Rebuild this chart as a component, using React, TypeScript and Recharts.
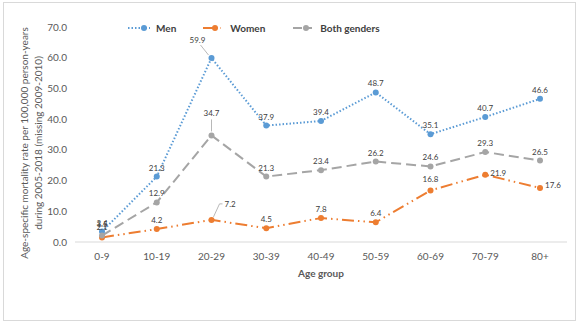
import React from 'react';
import { LineChart, Line, XAxis, YAxis, Legend } from 'recharts';

const ageGroups = ['0-9', '10-19', '20-29', '30-39', '40-49', '50-59', '60-69', '70-79', '80+'];
const men = [3.4, 21.3, 59.9, 37.9, 39.4, 48.7, 35.1, 40.7, 46.6];
const women = [1.5, 4.2, 7.2, 4.5, 7.8, 6.4, 16.8, 21.9, 17.6];
const bothGenders = [2.1, 12.9, 34.7, 21.3, 23.4, 26.2, 24.6, 29.3, 26.5];
const yTicks = [0, 10, 20, 30, 40, 50, 60, 70];

const data = ageGroups.map((g, i) => ({
    group: g,
    men: men[i],
    women: women[i],
    both: bothGenders[i],
}));

const FONT = 'Lato, "Open Sans", sans-serif';
const LABEL_COLOR = '#404040';
const AXIS_COLOR = '#595959';

// label tweaks for the few callouts that Excel moved away from the point
type Offset = { dx: number; dy: number; anchor?: 'start' | 'middle' | 'end'; leader?: boolean };
const menOffsets: Record<number, Offset> = { 2: { dx: -14, dy: -9, leader: true } };
const bothOffsets: Record<number, Offset> = { 0: { dx: 0, dy: 0 }, 2: { dx: 0, dy: -13, leader: true } };
const womenOffsets: Record<number, Offset> = {
    0: { dx: 0, dy: -4 },
    2: { dx: 13, dy: -7, anchor: 'start', leader: true },
    6: { dx: 0, dy: -2 },
    7: { dx: 5, dy: 7, anchor: 'start' },
    8: { dx: 5, dy: 6, anchor: 'start' },
};

const makeLabel = (offsets: Record<number, Offset>) => (props: any) => {
    const { x, y, value, index } = props;
    const o = offsets[index] || { dx: 0, dy: 0 };
    const tx = x + o.dx;
    const ty = y - 6 + o.dy;
    let leader = null;
    if (o.leader) {
        if (o.anchor === 'start') {
            leader = <polyline points={`${x + 2},${y - 3} ${tx - 5},${ty - 3} ${tx - 2},${ty - 3}`} fill="none" stroke="#a6a6a6" strokeWidth={0.8} />;
        } else if (o.dx !== 0) {
            leader = <line x1={tx + 3} y1={ty + 2} x2={x - 3} y2={y - 3} stroke="#a6a6a6" strokeWidth={0.8} />;
        } else {
            leader = <line x1={x} y1={ty + 3} x2={x} y2={y - 4} stroke="#a6a6a6" strokeWidth={0.8} />;
        }
    }
    return (
        <g>
            {leader}
            <text x={tx} y={ty} textAnchor={o.anchor || 'middle'} fontSize={8} fill={LABEL_COLOR} fontFamily={FONT}>
                {value.toFixed(1)}
            </text>
        </g>
    );
};

const LegendSwatch = ({ color, dash, width }: { color: string; dash: string; width: number }) => (
    <svg width={width} height={10} style={{ display: 'block' }}>
        <line x1={0} y1={5} x2={width} y2={5} stroke={color} strokeWidth={2} strokeDasharray={dash} />
        <circle cx={width - 6} cy={5} r={3} fill={color} />
    </svg>
);

const renderLegend = () => (
    <div style={{ display: 'flex', alignItems: 'center', fontFamily: FONT, fontSize: 10, fontWeight: 700, color: LABEL_COLOR }}>
        <LegendSwatch color="#5B9BD5" dash="1.5 2" width={22} />
        <span style={{ marginLeft: 6 }}>Men</span>
        <span style={{ width: 27 }} />
        <LegendSwatch color="#ED7D31" dash="10 3 1.5 3" width={18} />
        <span style={{ marginLeft: 9 }}>Women</span>
        <span style={{ width: 28 }} />
        <LegendSwatch color="#A5A5A5" dash="9 4" width={19} />
        <span style={{ marginLeft: 8 }}>Both genders</span>
    </div>
);

const YTitle = () => {
    const cy = 143;
    return (
        <g fontFamily={FONT} fontSize={10} fill={AXIS_COLOR}>
            <text transform={`translate(28, ${cy}) rotate(-90)`} textAnchor="middle">
                Age-specific mortality rate per 100,000 person-years
            </text>
            <text transform={`translate(42, ${cy}) rotate(-90)`} textAnchor="middle">
                during 2005-2018 (missing 2009-2010)
            </text>
        </g>
    );
};

const App: React.FC = () => {
    return (
        <div style={{ position: 'absolute', left: 0, top: 0, width: 583, height: 324, background: '#fff' }}>
            <div
                style={{
                    position: 'absolute',
                    left: 3,
                    top: 2,
                    width: 573,
                    height: 319,
                    border: '1px solid #d9d9d9',
                    boxSizing: 'border-box',
                }}
            />
            <LineChart
                width={583}
                height={324}
                data={data}
                margin={{ top: 15, right: 16, left: 0, bottom: 52 }}
                style={{ position: 'absolute', left: 0, top: 0 }}
            >
                <XAxis
                    dataKey="group"
                    padding={{ left: 27, right: 27 }}
                    axisLine={{ stroke: '#d9d9d9', strokeWidth: 1 }}
                    tickLine={false}
                    tick={{ fill: AXIS_COLOR, fontSize: 10, fontFamily: FONT }}
                    tickMargin={5}
                    interval={0}
                    label={{
                        value: 'Age group',
                        position: 'insideBottom',
                        offset: -5,
                        fill: AXIS_COLOR,
                        fontSize: 10,
                        fontWeight: 700,
                        fontFamily: FONT,
                    }}
                />
                <YAxis
                    width={75}
                    domain={[0, 70]}
                    ticks={yTicks}
                    axisLine={false}
                    tickLine={false}
                    tick={{ fill: AXIS_COLOR, fontSize: 10, fontFamily: FONT }}
                    tickFormatter={(v) => v.toFixed(1)}
                    label={{ content: YTitle }}
                />
                <Legend
                    verticalAlign="top"
                    content={renderLegend}
                    wrapperStyle={{ position: 'absolute', top: 22, left: 128, width: 300, height: 12 }}
                />
                <Line
                    type="linear"
                    dataKey="men"
                    name="Men"
                    stroke="#5B9BD5"
                    strokeWidth={2}
                    strokeDasharray="1.5 2"
                    dot={{ r: 3, fill: '#5B9BD5', stroke: '#5B9BD5', strokeWidth: 0, strokeDasharray: '' }}
                    activeDot={false}
                    label={makeLabel(menOffsets)}
                    isAnimationActive={false}
                />
                <Line
                    type="linear"
                    dataKey="women"
                    name="Women"
                    stroke="#ED7D31"
                    strokeWidth={2}
                    strokeDasharray="12 4 1.5 4 1.5 4"
                    dot={{ r: 3, fill: '#ED7D31', stroke: '#ED7D31', strokeWidth: 0, strokeDasharray: '' }}
                    activeDot={false}
                    label={makeLabel(womenOffsets)}
                    isAnimationActive={false}
                />
                <Line
                    type="linear"
                    dataKey="both"
                    name="Both genders"
                    stroke="#A5A5A5"
                    strokeWidth={2}
                    strokeDasharray="10 5"
                    dot={{ r: 3, fill: '#A5A5A5', stroke: '#A5A5A5', strokeWidth: 0, strokeDasharray: '' }}
                    activeDot={false}
                    label={makeLabel(bothOffsets)}
                    isAnimationActive={false}
                />
            </LineChart>
        </div>
    );
};

export default App;
